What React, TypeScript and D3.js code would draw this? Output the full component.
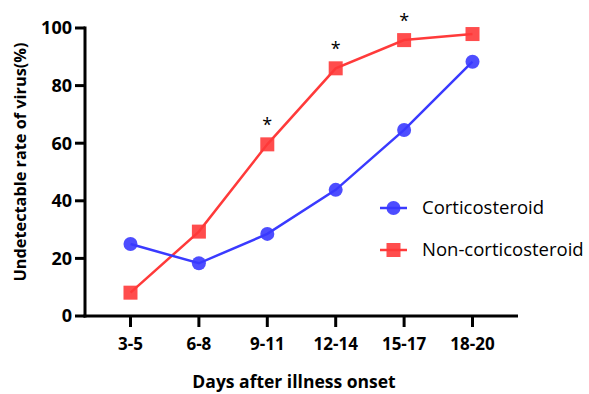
import React from 'react';
import * as d3 from 'd3';

const categories = ['3-5', '6-8', '9-11', '12-14', '15-17', '18-20'];
const corticosteroid = [25, 18.3, 28.5, 43.8, 64.6, 88.3];
const nonCorticosteroid = [8.1, 29.3, 59.6, 86, 95.8, 97.9];
const starred = ['9-11', '12-14', '15-17'];
const yTicks = [0, 20, 40, 60, 80, 100];

const W = 589;
const H = 394;
const left = 85;
const right = 518;
const top = 28;
const bottom = 316;

const BLUE = '#3a3aff';
const RED = '#ff3a3a';

export default function App() {
    const x = d3.scalePoint<string>().domain(categories).range([left, right]).padding(0.665);
    const y = d3.scaleLinear().domain([0, 100]).range([bottom, top]);

    const line = d3.line<number>()
        .x((d, i) => x(categories[i]) as number)
        .y(d => y(d));

    const font = '"Open Sans", sans-serif';

    return (
        <svg width={W} height={H} style={{ position: 'absolute', left: 0, top: 0, background: '#fff' }}
            fontFamily={font}>
            {/* axes */}
            <line x1={left} x2={left} y1={top - 1.5} y2={bottom + 1.5} stroke="#000" strokeWidth={3} />
            <line x1={left - 1.5} x2={right} y1={bottom} y2={bottom} stroke="#000" strokeWidth={3} />
            {yTicks.map(t => (
                <g key={t}>
                    <line x1={left - 10} x2={left} y1={y(t)} y2={y(t)} stroke="#000" strokeWidth={3} />
                    <text x={left - 13} y={y(t)} dy="0.35em" textAnchor="end" fontSize={18} fontWeight="bold">{t}</text>
                </g>
            ))}
            {categories.map(c => (
                <g key={c}>
                    <line x1={x(c)} x2={x(c)} y1={bottom} y2={bottom + 11} stroke="#000" strokeWidth={3} />
                    <text x={x(c)} y={350} textAnchor="middle" fontSize={17} fontWeight="bold">{c}</text>
                </g>
            ))}
            <text x={294} y={388} textAnchor="middle" fontSize={17.5} fontWeight="bold">Days after illness onset</text>
            <text transform="translate(26,162) rotate(-90)" textAnchor="middle"
                fontSize={16.3} fontWeight="bold">Undetectable rate of virus(%)</text>

            {/* series */}
            <path d={line(nonCorticosteroid) as string} fill="none" stroke={RED} strokeWidth={2.5} />
            <path d={line(corticosteroid) as string} fill="none" stroke={BLUE} strokeWidth={2.5} />
            {nonCorticosteroid.map((v, i) => (
                <rect key={i} x={(x(categories[i]) as number) - 7} y={y(v) - 7} width={14} height={14}
                    fill={RED} fillOpacity={0.9} />
            ))}
            {corticosteroid.map((v, i) => (
                <circle key={i} cx={x(categories[i])} cy={y(v)} r={7} fill={BLUE} fillOpacity={0.9} />
            ))}
            {starred.map(c => {
                const v = nonCorticosteroid[categories.indexOf(c)];
                return <text key={c} x={x(c)} y={y(v) - 13} textAnchor="middle" fontSize={18}>*</text>;
            })}

            {/* legend */}
            <g transform="translate(380,208)">
                <line x1={0} x2={27} stroke={BLUE} strokeWidth={2.5} />
                <circle cx={13.5} r={7} fill={BLUE} fillOpacity={0.9} />
                <text x={42} dy="0.35em" fontSize={18.5}>Corticosteroid</text>
            </g>
            <g transform="translate(380,250)">
                <line x1={0} x2={27} stroke={RED} strokeWidth={2.5} />
                <rect x={6.5} y={-7} width={14} height={14} fill={RED} fillOpacity={0.9} />
                <text x={42} dy="0.35em" fontSize={18.5}>Non-corticosteroid</text>
            </g>
        </svg>
    );
}
